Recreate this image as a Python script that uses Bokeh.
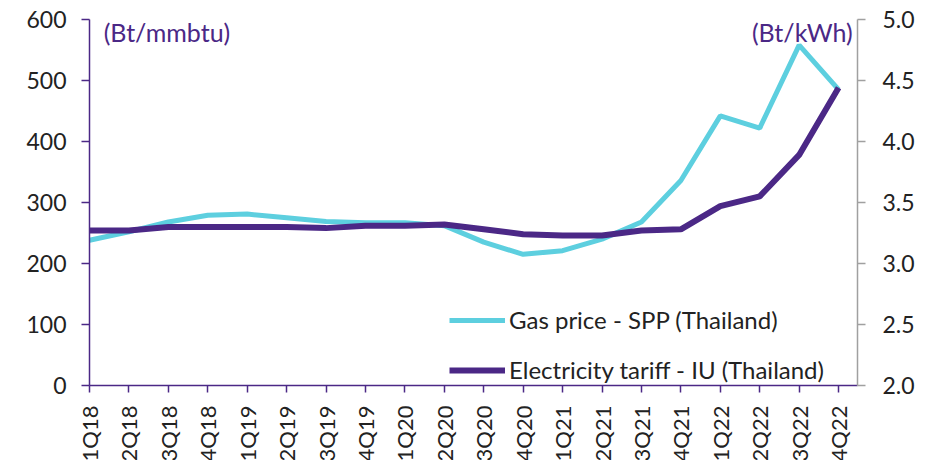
from bokeh.plotting import figure
from bokeh.models import Range1d, LinearAxis, FixedTicker, Legend, LegendItem, Label
from bokeh.embed import file_html
from bokeh.resources import INLINE

quarters = ["1Q18", "2Q18", "3Q18", "4Q18", "1Q19", "2Q19", "3Q19", "4Q19",
            "1Q20", "2Q20", "3Q20", "4Q20", "1Q21", "2Q21", "3Q21", "4Q21",
            "1Q22", "2Q22", "3Q22", "4Q22"]
gas_price = [238, 252, 268, 279, 281, 275, 269, 267, 267, 262, 235, 215,
             221, 240, 268, 336, 442, 422, 558, 485]
elec_tariff = [3.27, 3.27, 3.30, 3.30, 3.30, 3.30, 3.29, 3.31, 3.31, 3.32,
               3.28, 3.24, 3.23, 3.23, 3.27, 3.28, 3.47, 3.55, 3.89, 4.44]
left_ticks = [0, 100, 200, 300, 400, 500, 600]
right_ticks = [2.0, 2.5, 3.0, 3.5, 4.0, 4.5, 5.0]

FONT = "Lato"
PURPLE = "#4B2886"
CYAN = "#5DCFDF"
TXT = "#222222"

xs = list(range(len(quarters)))

p = figure(frame_width=768, frame_height=366, output_backend="svg", toolbar_location=None,
           x_range=Range1d(0, 19.48), y_range=Range1d(0, 600),
           min_border_left=89, min_border_right=63, min_border_top=19, min_border_bottom=10)
p.extra_y_ranges = {"right": Range1d(2.0, 5.0)}
p.outline_line_color = None
p.xgrid.visible = False
p.ygrid.visible = False
p.background_fill_color = "white"
p.border_fill_color = "white"

r_gas = p.line(xs, gas_price, line_color=CYAN, line_width=5)
r_el = p.line(xs, elec_tariff, line_color=PURPLE, line_width=6, y_range_name="right")

# x axis
xa = p.xaxis[0]
xa.ticker = FixedTicker(ticks=xs)
xa.major_label_overrides = {i: q for i, q in enumerate(quarters)}
xa.major_label_orientation = 1.5708
xa.major_label_text_font = FONT
xa.major_label_text_font_size = "22px"
xa.major_label_text_color = TXT
xa.axis_line_color = PURPLE
xa.axis_line_width = 1.5
xa.major_tick_line_color = PURPLE
xa.major_tick_line_width = 1.5
xa.major_tick_out = 7
xa.major_tick_in = 0
xa.minor_tick_line_color = None
xa.major_label_standoff = 13

# left axis
ya = p.yaxis[0]
ya.ticker = FixedTicker(ticks=left_ticks)
ya.major_label_text_font = FONT
ya.major_label_text_font_size = "23px"
ya.major_label_text_color = TXT
ya.axis_line_color = PURPLE
ya.axis_line_width = 1.5
ya.major_tick_line_color = PURPLE
ya.major_tick_line_width = 1.5
ya.major_tick_out = 8
ya.major_tick_in = 0
ya.minor_tick_line_color = None
ya.major_label_standoff = 15

# right axis
ra = LinearAxis(y_range_name="right", ticker=FixedTicker(ticks=right_ticks))
ra.major_label_overrides = {t: f"{t:.1f}" for t in right_ticks}
ra.major_label_text_font = FONT
ra.major_label_text_font_size = "23px"
ra.major_label_text_color = TXT
ra.axis_line_color = "#A0A0A0"
ra.axis_line_width = 1.5
ra.major_tick_line_color = "#A0A0A0"
ra.major_tick_line_width = 1.5
ra.major_tick_out = 8
ra.major_tick_in = 0
ra.minor_tick_line_color = None
ra.major_label_standoff = 17
p.add_layout(ra, "right")

# unit labels
p.add_layout(Label(x=0.36, y=580, text="(Bt/mmbtu)", text_font=FONT,
                   text_font_size="25px", text_color=PURPLE,
                   text_align="left", text_baseline="middle"))
p.add_layout(Label(x=19.36, y=580, text="(Bt/kWh)", text_font=FONT,
                   text_font_size="25px", text_color=PURPLE,
                   text_align="right", text_baseline="middle"))

legend = Legend(items=[LegendItem(label="Gas price - SPP (Thailand)", renderers=[r_gas]),
                       LegendItem(label="Electricity tariff - IU (Thailand)", renderers=[r_el])],
                location=(360, 1), border_line_color=None, background_fill_alpha=0,
                label_text_font=FONT, label_text_font_size="24px", label_text_color=TXT,
                glyph_width=56, glyph_height=24, label_standoff=4, spacing=21,
                padding=0, margin=0)
p.add_layout(legend, "center")

open("out.html", "w").write(file_html(p, INLINE))
